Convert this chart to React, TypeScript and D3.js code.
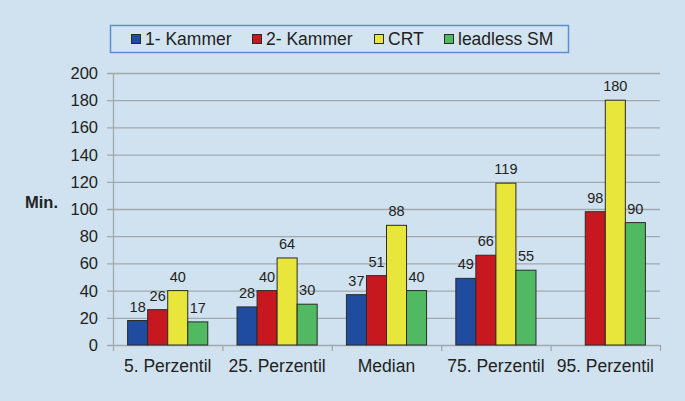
import React, { useEffect, useRef } from 'react';
import * as d3 from 'd3';

const categories = ['5. Perzentil', '25. Perzentil', 'Median', '75. Perzentil', '95. Perzentil'];
const seriesNames = ['1- Kammer', '2- Kammer', 'CRT', 'leadless SM'];
const kammer1 = [18, 28, 37, 49, null];
const kammer2 = [26, 40, 51, 66, 98];
const crt = [40, 64, 88, 119, 180];
const leadless = [17, 30, 40, 55, 90];
const yTicks = [0, 20, 40, 60, 80, 100, 120, 140, 160, 180, 200];
const colors = ['#1f4c9f', '#c8181f', '#e8e53b', '#52b963'];

const W = 685, H = 401;
const font = 'Liberation Sans, Arial, sans-serif';

export default function App() {
  const ref = useRef<SVGSVGElement>(null);

  useEffect(() => {
    const svg = d3.select(ref.current);
    svg.selectAll('*').remove();
    const series = [kammer1, kammer2, crt, leadless];

    svg.append('rect').attr('width', W).attr('height', H).attr('fill', '#d0e2ef');

    const x = d3.scaleBand().domain(categories).range([113, 660]).paddingInner(0).paddingOuter(0);
    const xs = d3.scaleBand().domain(seriesNames).range([0, x.bandwidth()]).paddingOuter(0.73).paddingInner(0);
    const y = d3.scaleLinear().domain([0, 200]).range([345, 73]);

    // grid
    svg.append('g').selectAll('line').data(yTicks).join('line')
      .attr('x1', 107).attr('x2', 660)
      .attr('y1', d => y(d) + 0.5).attr('y2', d => y(d) + 0.5)
      .attr('stroke', '#a3a8ad').attr('stroke-width', 1.3);

    // y axis
    svg.append('line').attr('x1', 113.5).attr('x2', 113.5).attr('y1', 73).attr('y2', 345)
      .attr('stroke', '#a3a8ad').attr('stroke-width', 1.3);
    svg.append('g').selectAll('text').data(yTicks).join('text')
      .attr('x', 98).attr('y', d => y(d) + 6)
      .attr('text-anchor', 'end').attr('font-family', font).attr('font-size', 16.5).attr('fill', '#222')
      .text(d => d);

    // x ticks
    const bounds = categories.map(c => x(c) as number).concat([660]);
    svg.append('g').selectAll('line').data(bounds).join('line')
      .attr('x1', d => d + 0.5).attr('x2', d => d + 0.5).attr('y1', 345).attr('y2', 351)
      .attr('stroke', '#a3a8ad').attr('stroke-width', 1.3);
    svg.append('g').selectAll('text').data(categories).join('text')
      .attr('x', d => (x(d) as number) + x.bandwidth() / 2).attr('y', 372)
      .attr('text-anchor', 'middle').attr('font-family', font).attr('font-size', 17.5).attr('fill', '#222')
      .text(d => d);

    // bars
    series.forEach((vals, si) => {
      const pts = categories.map((c, i) => ({ c, v: vals[i] })).filter(p => p.v != null) as { c: string; v: number }[];
      const g = svg.append('g');
      g.selectAll('rect').data(pts).join('rect')
        .attr('x', d => (x(d.c) as number) + (xs(seriesNames[si]) as number))
        .attr('y', d => y(d.v))
        .attr('width', xs.bandwidth())
        .attr('height', d => y(0) - y(d.v))
        .attr('fill', colors[si]).attr('stroke', '#2a2a2a').attr('stroke-width', 1);
      g.selectAll('text').data(pts).join('text')
        .attr('x', d => (x(d.c) as number) + (xs(seriesNames[si]) as number) + xs.bandwidth() / 2)
        .attr('y', d => y(d.v) - 9)
        .attr('text-anchor', 'middle').attr('font-family', font).attr('font-size', 14.5).attr('fill', '#222')
        .text(d => d.v);
    });

    // y title
    svg.append('text').attr('x', 25).attr('y', 208).attr('font-family', font).attr('font-size', 16.5)
      .attr('font-weight', 'bold').attr('fill', '#222').text('Min.');

    // legend
    svg.append('rect').attr('x', 110.5).attr('y', 25.5).attr('width', 458).attr('height', 27)
      .attr('fill', '#d3e4f1').attr('stroke', '#5d8fd0').attr('stroke-width', 1.5);
    const legX = [131, 252, 374, 444];
    const lg = svg.append('g').selectAll('g').data(seriesNames).join('g')
      .attr('transform', (d, i) => `translate(${legX[i]},0)`);
    lg.append('rect').attr('x', 0.5).attr('y', 34.5).attr('width', 9).attr('height', 9)
      .attr('fill', (d, i) => colors[i]).attr('stroke', '#2a2a2a').attr('stroke-width', 1);
    lg.append('text').attr('x', 14).attr('y', 45).attr('font-family', font).attr('font-size', 17.5)
      .attr('fill', '#222').text(d => d);
  }, []);

  return (
    <svg ref={ref} width={W} height={H} style={{ position: 'absolute', left: 0, top: 0 }} />
  );
}
